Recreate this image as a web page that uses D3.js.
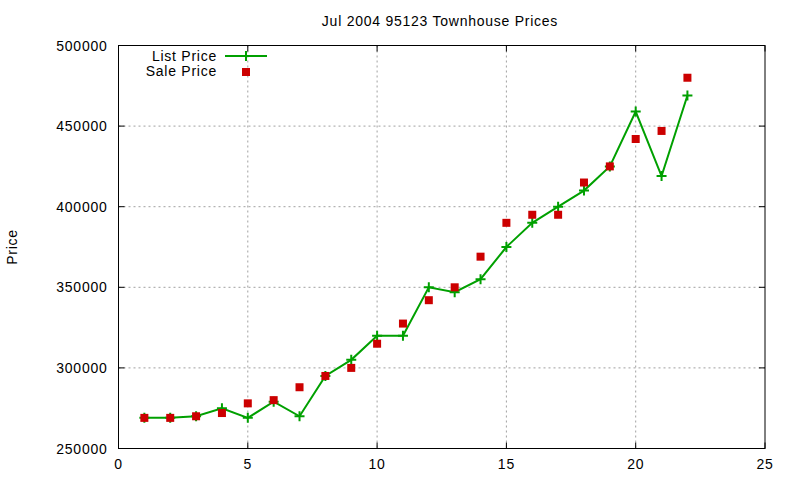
<!DOCTYPE html>
<html>
<head>
<meta charset="utf-8">
<script src="https://cdn.jsdelivr.net/npm/d3@7"></script>
<style>
  body { margin: 0; background: #fff; }
  svg { font-family: "Liberation Sans", Arial, sans-serif; }
  svg text { letter-spacing: 0.75px; }
</style>
</head>
<body>
<svg id="chart" width="800" height="480"></svg>
<script>
const xs = [1, 2, 3, 4, 5, 6, 7, 8, 9, 10, 11, 12, 13, 14, 15, 16, 17, 18, 19, 20, 21, 22];
const listPrice = [269000, 269000, 270000, 275000, 269000, 279000, 270000, 295000, 305000, 320000, 320000,
  350000, 347000, 355000, 375000, 390000, 400000, 410000, 425000, 459000, 419000, 469000];
const salePrice = [269000, 269000, 270000, 272000, 278000, 280000, 288000, 295000, 300000, 315000, 327500,
  342000, 350000, 369000, 390000, 395000, 395000, 415000, 425000, 442000, 447000, 480000];
const xTicks = [0, 5, 10, 15, 20, 25];
const yTicks = [250000, 300000, 350000, 400000, 450000, 500000];

const M = { top: 45.5, right: 35, bottom: 31.5, left: 118.5 };
const W = 800, H = 480;
const GREEN = '#00a000';
const RED = '#cc0000';

const svg = d3.select('#chart');
const x = d3.scaleLinear().domain([0, 25]).range([M.left, W - M.right]);
const y = d3.scaleLinear().domain([250000, 500000]).range([H - M.bottom, M.top]);

// grid
svg.append('g').selectAll('line')
  .data(xTicks.slice(1, -1))
  .join('line')
  .attr('x1', d => x(d)).attr('x2', d => x(d))
  .attr('y1', M.top).attr('y2', H - M.bottom)
  .attr('stroke', '#a0a0a0').attr('stroke-dasharray', '2,3');
svg.append('g').selectAll('line')
  .data(yTicks.slice(1, -1))
  .join('line')
  .attr('x1', M.left).attr('x2', W - M.right)
  .attr('y1', d => y(d)).attr('y2', d => y(d))
  .attr('stroke', '#a0a0a0').attr('stroke-dasharray', '2,3');

// inward ticks on all four sides
const tk = 6;
const ticks = svg.append('g').attr('stroke', '#000');
xTicks.forEach(t => {
  ticks.append('line').attr('x1', x(t)).attr('x2', x(t)).attr('y1', H - M.bottom).attr('y2', H - M.bottom - tk);
  ticks.append('line').attr('x1', x(t)).attr('x2', x(t)).attr('y1', M.top).attr('y2', M.top + tk);
});
yTicks.forEach(t => {
  ticks.append('line').attr('x1', M.left).attr('x2', M.left + tk).attr('y1', y(t)).attr('y2', y(t));
  ticks.append('line').attr('x1', W - M.right).attr('x2', W - M.right - tk).attr('y1', y(t)).attr('y2', y(t));
});

// frame
svg.append('rect')
  .attr('x', M.left).attr('y', M.top)
  .attr('width', W - M.right - M.left).attr('height', H - M.bottom - M.top)
  .attr('fill', 'none').attr('stroke', '#000');

// tick labels
svg.append('g').selectAll('text')
  .data(xTicks)
  .join('text')
  .attr('x', d => x(d)).attr('y', H - M.bottom + 20)
  .attr('text-anchor', 'middle').attr('font-size', 14)
  .text(d => d);
svg.append('g').selectAll('text')
  .data(yTicks)
  .join('text')
  .attr('x', M.left - 11).attr('y', d => y(d) + 5)
  .attr('text-anchor', 'end').attr('font-size', 14)
  .text(d => d);

// titles
svg.append('text')
  .attr('x', 440).attr('y', 26)
  .attr('text-anchor', 'middle').attr('font-size', 14)
  .text('Jul 2004 95123 Townhouse Prices');
svg.append('text')
  .attr('transform', 'translate(17,247) rotate(-90)')
  .attr('text-anchor', 'middle').attr('font-size', 14)
  .text('Price');

// list price line
const pts = xs.map((d, i) => [d, listPrice[i]]);
svg.append('path')
  .datum(pts)
  .attr('fill', 'none').attr('stroke', GREEN).attr('stroke-width', 2)
  .attr('d', d3.line().x(d => x(d[0])).y(d => y(d[1])));

const plus = (g, cx, cy) => g.append('path')
  .attr('d', `M${cx - 5},${cy}H${cx + 5}M${cx},${cy - 5}V${cy + 5}`)
  .attr('stroke', GREEN).attr('stroke-width', 2);

const marks = svg.append('g');
pts.forEach(d => plus(marks, x(d[0]), y(d[1])));

// sale price squares
svg.append('g').selectAll('rect')
  .data(xs.map((d, i) => [d, salePrice[i]]))
  .join('rect')
  .attr('x', d => x(d[0]) - 4).attr('y', d => y(d[1]) - 4)
  .attr('width', 8).attr('height', 8)
  .attr('fill', RED);

// legend
const lg = svg.append('g');
lg.append('text').attr('x', 217).attr('y', 61).attr('text-anchor', 'end').attr('font-size', 14).text('List Price');
lg.append('line').attr('x1', 225).attr('x2', 267).attr('y1', 56).attr('y2', 56)
  .attr('stroke', GREEN).attr('stroke-width', 2);
plus(lg, 246, 56);
lg.append('text').attr('x', 217).attr('y', 76).attr('text-anchor', 'end').attr('font-size', 14).text('Sale Price');
lg.append('rect').attr('x', 242).attr('y', 68).attr('width', 8).attr('height', 8).attr('fill', RED);
</script>
</body>
</html>
